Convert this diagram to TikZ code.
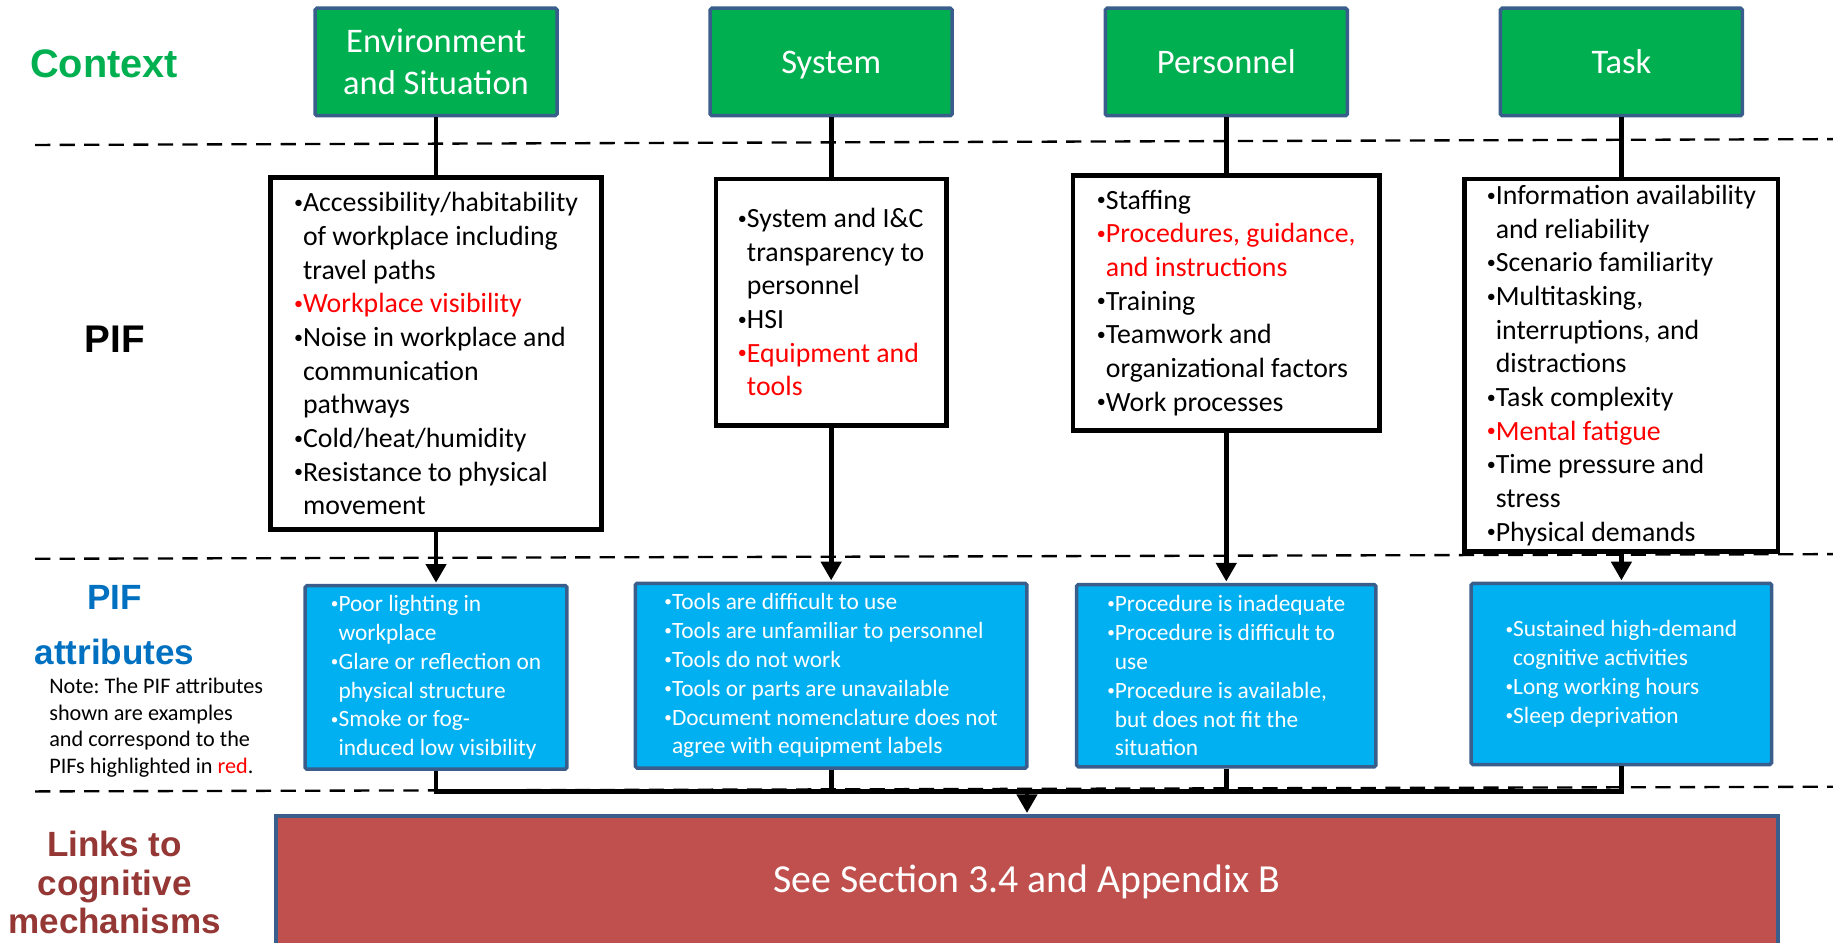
\documentclass[tikz,border=0pt]{standalone}
\usepackage{fontspec}
\setmainfont{Carlito}
\newfontfamily\headfont{Liberation Sans}
\usetikzlibrary{arrows.meta}

\definecolor{ctxgreen}{HTML}{00B050}
\definecolor{attrcyan}{HTML}{00B0F0}
\definecolor{edgeblue}{HTML}{3A5E8C}
\definecolor{linkred}{HTML}{C0504D}
\definecolor{linktext}{HTML}{953735}
\definecolor{attrtext}{HTML}{0070C0}
\definecolor{hired}{HTML}{FF0000}

% small bullet and hanging indent for the list items
\newcommand\bx{\raisebox{0.12em}{\scalebox{0.65}{\textbullet}}}
\newcommand\hx{\phantom{\bx}}

\frenchspacing

\begin{document}
\begin{tikzpicture}[x=1pt,y=-1pt,
  ctxbox/.style={draw=edgeblue, line width=3pt, fill=ctxgreen, text=white,
    align=center, inner sep=0pt, rounded corners=1.5pt,
    minimum width=207pt, minimum height=92pt,
    font=\fontsize{29.5}{36}\selectfont},
  pifbox/.style={draw=black, line width=4pt, fill=white, align=left, inner sep=0pt,
    font=\fontsize{23.8}{28.8}\selectfont},
  attrbox/.style={draw=edgeblue, line width=3pt, fill=attrcyan, text=white,
    align=left, inner sep=0pt, rounded corners=1.5pt,
    font=\fontsize{20}{24.7}\selectfont},
  linkbox/.style={draw=edgeblue, line width=3pt, fill=linkred, text=white,
    inner sep=0pt, font=\fontsize{34}{40}\selectfont},
  rowlabel/.style={align=center, inner sep=0pt, font=\headfont\bfseries\fontsize{33}{36}\selectfont},
  conn/.style={line width=4pt, draw=black},
  arr/.style={conn, -{Triangle[width=17pt,length=16pt]}, shorten >=1pt},
  sep/.style={line width=2pt, dash pattern=on 13pt off 8pt}]

\useasboundingbox (0,0) rectangle (1568,806);

% row separators
\draw[sep] (30,124) -- (1568,119);
\draw[sep] (30,478) -- (1568,474);
\draw[sep] (30,677) -- (1568,673);

% row labels
\node[rowlabel, text=ctxgreen, font=\headfont\bfseries\fontsize{34}{36}\selectfont] (lctx) at (89,55) {Context};
\node[rowlabel, text=black] (lpif) at (98,290) {PIF};
\node[rowlabel, text=attrtext, font=\headfont\bfseries\fontsize{30}{47}\selectfont] (lattr) at (98,535) {PIF\\attributes};
\node[rowlabel, text=linktext, font=\headfont\bfseries\fontsize{30}{33}\selectfont] (llink) at (98,755) {Links to\\cognitive\\mechanisms};
\node[align=left, inner sep=0pt, anchor=north west, font=\fontsize{19}{22.7}\selectfont] (note) at (42,580)
  {Note: The PIF attributes\\shown are examples\\and correspond to the\\PIFs highlighted in {\color{hired}red}.};

% context boxes
\node[ctxbox] (envC) at (373,53) {Environment\\and Situation};
\node[ctxbox] (sysC) at (711,53) {\raisebox{0pt}[\height][0pt]{System}};
\node[ctxbox] (perC) at (1049,53) {Personnel};
\node[ctxbox] (tskC) at (1387,53) {Task};

% PIF boxes
\node[pifbox, minimum width=283pt, minimum height=301pt] (envP) at (373,302.5) {%
  \bx Accessibility/habitability\\
  \hx of workplace including\\
  \hx travel paths\\
  {\color{hired}\bx Workplace visibility}\\
  \bx Noise in workplace and\\
  \hx communication\\
  \hx pathways\\
  \bx Cold/heat/humidity\\
  \bx Resistance to physical\\
  \hx movement};
\node[pifbox, minimum width=197pt, minimum height=211pt] (sysP) at (711,258.5) {%
  \bx System and I\&C\\
  \hx transparency to\\
  \hx personnel\\
  \bx HSI\\
  {\color{hired}\bx Equipment and}\\
  {\color{hired}\hx tools}};
\node[pifbox, minimum width=262pt, minimum height=218pt] (perP) at (1049,259) {%
  \bx Staffing\\
  {\color{hired}\bx Procedures, guidance,}\\
  {\color{hired}\hx and instructions}\\
  \bx Training\\
  \bx Teamwork and\\
  \hx organizational factors\\
  \bx Work processes};
\node[pifbox, minimum width=268pt, minimum height=319pt] (tskP) at (1387,312.5) {%
  \bx Information availability\\
  \hx and reliability\\
  \bx Scenario familiarity\\
  \bx Multitasking,\\
  \hx interruptions, and\\
  \hx distractions\\
  \bx Task complexity\\
  {\color{hired}\bx Mental fatigue}\\
  \bx Time pressure and\\
  \hx stress\\
  \bx Physical demands};

% PIF attribute boxes
\node[attrbox, minimum width=224pt, minimum height=157pt] (envA) at (373,579.5) {%
  \bx Poor lighting in\\
  \hx workplace\\
  \bx Glare or reflection on\\
  \hx physical structure\\
  \bx Smoke or fog-\\
  \hx induced low visibility};
\node[attrbox, minimum width=335pt, minimum height=158pt] (sysA) at (711,578) {%
  \bx Tools are difficult to use\\
  \bx Tools are unfamiliar to personnel\\
  \bx Tools do not work\\
  \bx Tools or parts are unavailable\\
  \bx Document nomenclature does not\\
  \hx agree with equipment labels};
\node[attrbox, minimum width=256pt, minimum height=156pt] (perA) at (1049,578) {%
  \bx Procedure is inadequate\\
  \bx Procedure is difficult to\\
  \hx use\\
  \bx Procedure is available,\\
  \hx but does not fit the\\
  \hx situation};
\node[attrbox, minimum width=257pt, minimum height=155pt] (tskA) at (1387,576.5) {%
  \bx Sustained high-demand\\
  \hx cognitive activities\\
  \bx Long working hours\\
  \bx Sleep deprivation};

% cognitive mechanisms link box
\node[linkbox, minimum width=1285pt, minimum height=112pt] (links) at (878.5,754) {See Section 3.4 and Appendix B};

% context -> PIF
\draw[conn] (envC.south) -- (envP.north);
\draw[conn] (sysC.south) -- (sysP.north);
\draw[conn] (perC.south) -- (perP.north);
\draw[conn] (tskC.south) -- (tskP.north);

% PIF -> attributes
\draw[arr] (envP.south) -- (envA.north);
\draw[arr] (sysP.south) -- (sysA.north);
\draw[arr] (perP.south) -- (perA.north);
\draw[arr] (tskP.south) -- (tskA.north);

% attributes -> collecting bus -> link box
\coordinate (bus) at (878.5,677);
\draw[conn] (envA.south) |- (bus) -| (tskA.south);
\draw[conn] (sysA.south) -- (sysA.south |- bus);
\draw[conn] (perA.south) -- (perA.south |- bus);
\draw[arr] (bus) -- (links.north);

\end{tikzpicture}
\end{document}
